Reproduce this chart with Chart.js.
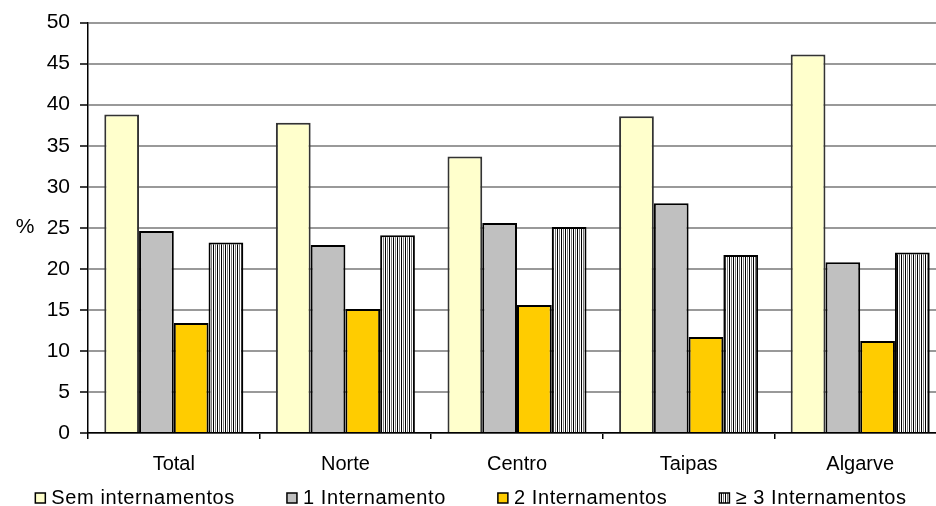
<!DOCTYPE html>
<html>
<head>
<meta charset="utf-8">
<script src="https://cdn.jsdelivr.net/npm/chart.js@4.4.1/dist/chart.umd.min.js"></script>
<style>
  html, body { margin: 0; padding: 0; background: #fff; overflow: hidden; }
  #wrap { width: 950px; height: 506px; position: relative; }
</style>
</head>
<body>
<div id="wrap"><canvas id="chart"></canvas></div>
<script>
// Categories (regions) and series values
const categories = ['Total', 'Norte', 'Centro', 'Taipas', 'Algarve'];
const seriesNames = ['Sem internamentos', '1 Internamento', '2 Internamentos', '\u2265 3 Internamentos'];
const semInternamentos = [38.8, 37.8, 33.7, 38.6, 46.1];
const umInternamento   = [24.6, 22.9, 25.6, 28.0, 20.8];
const doisInternamentos = [13.4, 15.1, 15.6, 11.7, 11.2];
const tresOuMais       = [23.2, 24.1, 25.1, 21.7, 22.0];
const yTicks = [0, 5, 10, 15, 20, 25, 30, 35, 40, 45, 50];

const FONT = '"Liberation Sans", Arial, sans-serif';

// vertical stripe fill for the ">= 3" series
function stripes() {
  const c = document.createElement('canvas');
  c.width = 4; c.height = 4;
  const g = c.getContext('2d');
  const cols = ['#ffffff', '#000000', '#ffffff', '#777777'];
  cols.forEach((col, i) => { g.fillStyle = col; g.fillRect(i, 0, 1, 4); });
  return g.createPattern(c, 'repeat');
}

// the "%" label sits unrotated left of the y axis
const percentLabel = {
  id: 'percentLabel',
  afterDraw(chart) {
    const { ctx, scales } = chart;
    const y = scales.y.getPixelForValue(25);
    ctx.save();
    ctx.font = '21px ' + FONT;
    ctx.fillStyle = '#000';
    ctx.textAlign = 'center';
    ctx.textBaseline = 'middle';
    ctx.fillText('%', 25, y - 1);
    ctx.restore();
  }
};

// legend drawn by hand: small boxes, tight box/text gap, wide item gap
const bottomLegend = {
  id: 'bottomLegend',
  afterDraw(chart) {
    const { ctx } = chart;
    const items = chart.data.datasets;
    const box = 10, gapText = 6, gapItem = 52;
    ctx.save();
    ctx.font = '20px ' + FONT;
    ctx.letterSpacing = '0.6px';
    const widths = items.map(d => box + gapText + ctx.measureText(d.label).width);
    const total = widths.reduce((a, b) => a + b, 0) + gapItem * (items.length - 1);
    let x = (chart.width - 8) / 2 - total / 2;
    const y = 498;
    items.forEach((d, i) => {
      ctx.fillStyle = d.backgroundColor;
      ctx.fillRect(x, y - box / 2, box, box);
      ctx.strokeStyle = '#000';
      ctx.lineWidth = 1.5;
      ctx.strokeRect(x, y - box / 2, box, box);
      ctx.fillStyle = '#000';
      ctx.textAlign = 'left';
      ctx.textBaseline = 'middle';
      ctx.fillText(d.label, x + box + gapText, y);
      x += widths[i] + gapItem;
    });
    ctx.restore();
  }
};

const ds = (label, data, fill, border) => ({
  label, data,
  backgroundColor: fill,
  borderColor: border,
  borderWidth: 2,
  barPercentage: 1.0,
  categoryPercentage: 0.81
});

new Chart(document.getElementById('chart'), {
  type: 'bar',
  plugins: [percentLabel, bottomLegend],
  data: {
    labels: categories,
    datasets: [
      ds(seriesNames[0], semInternamentos, '#FFFFCC', '#333333'),
      ds(seriesNames[1], umInternamento, '#C0C0C0', '#000000'),
      ds(seriesNames[2], doisInternamentos, '#FFCC00', '#000000'),
      ds(seriesNames[3], tresOuMais, stripes(), '#000000')
    ]
  },
  options: {
    responsive: true,
    maintainAspectRatio: false,
    animation: false,
    layout: { padding: { top: 12, right: 4, left: 0, bottom: 17 } },
    plugins: {
      tooltip: { enabled: false },
      legend: { display: false }
    },
    scales: {
      x: {
        grid: {
          offset: true,
          drawOnChartArea: false,
          drawTicks: true,
          tickLength: 6,
          color: '#000',
          lineWidth: 1.5
        },
        border: { color: '#000', width: 1.5 },
        ticks: {
          font: { family: FONT, size: 20 },
          color: '#000',
          padding: 13
        }
      },
      y: {
        min: 0,
        max: 50,
        afterBuildTicks: axis => { axis.ticks = yTicks.map(v => ({ value: v })); },
        afterFit: axis => { axis.width = 88; },
        grid: {
          color: '#999999',
          lineWidth: 2,
          tickLength: 8,
          tickColor: '#000',
          tickWidth: 1.5
        },
        border: { color: '#000', width: 1.5 },
        ticks: {
          font: { family: FONT, size: 21 },
          color: '#000',
          padding: 10
        }
      }
    }
  }
});
</script>
</body>
</html>
